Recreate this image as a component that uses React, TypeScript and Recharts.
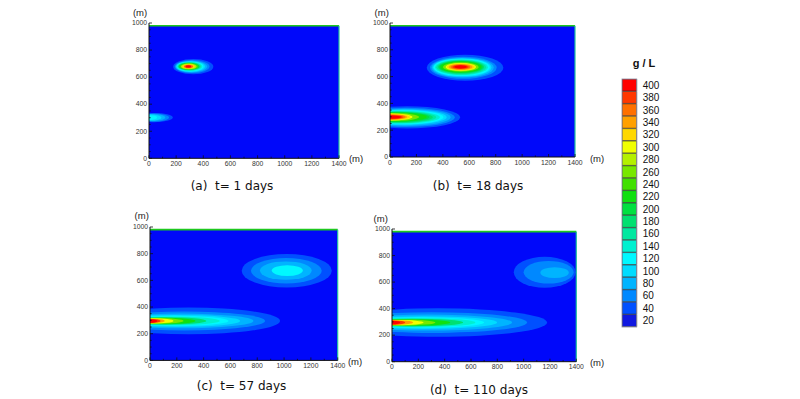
import React from 'react';
import { ComposedChart, BarChart, Bar, Cell, XAxis, YAxis, ReferenceArea, ReferenceLine } from 'recharts';

// ---------- data ----------
const LEVELS = [20, 40, 60, 80, 100, 120, 140, 160, 180, 200, 220, 240, 260, 280, 300, 320, 340, 360, 380, 400];
const LEVEL_COLORS = [
  '#1018e0', '#0050ff', '#0088ff', '#00b4ff', '#00dcff', '#00f8ff', '#00f0d0', '#00e8a0', '#00e070', '#00e040',
  '#10e010', '#40e000', '#78e800', '#b4f000', '#f0ff00', '#ffd800', '#ffa000', '#ff7000', '#ff3800', '#ff0000',
];
const BG = '#0008fa';
const FIELD_TOP = 980;
const X_TICKS = [0, 100, 200, 300, 400, 500, 600, 700, 800, 900, 1000, 1100, 1200, 1300, 1400];
const Y_TICKS = [0, 50, 100, 150, 200, 250, 300, 350, 400, 450, 500, 550, 600, 650, 700, 750, 800, 850, 900, 950, 1000];

// contour rings: [level, centerX, centerY, radiusX, radiusY] (metres)
const a_upper = [
  [40, 326, 677, 148, 56], [60, 318, 678, 128, 48], [80, 312, 678, 116, 43], [100, 307, 678, 106, 39],
  [120, 303, 678, 98, 36], [140, 300, 679, 92, 33], [160, 298, 679, 86, 30], [200, 296, 679, 78, 27],
  [240, 294, 679, 68, 24], [280, 293, 679, 58, 21], [320, 292, 679, 46, 17], [360, 291, 679, 34, 13],
  [400, 290, 679, 22, 9],
];
const a_lower = [
  [40, 40, 301, 135, 34], [60, 30, 301, 118, 30], [80, 20, 301, 100, 26], [100, 10, 301, 82, 22], [120, 0, 301, 60, 18],
];
const b_upper = [
  [40, 568, 666, 290, 97], [60, 555, 666, 252, 82], [80, 550, 667, 235, 74], [100, 546, 668, 222, 68],
  [120, 543, 669, 212, 64], [140, 541, 670, 200, 59], [160, 539, 670, 188, 54], [180, 538, 671, 175, 49],
  [200, 537, 671, 165, 45], [220, 536, 672, 155, 42], [260, 536, 672, 135, 35], [300, 536, 672, 115, 29],
  [320, 536, 672, 104, 26], [340, 535, 672, 90, 22], [360, 534, 672, 75, 18], [380, 534, 672, 62, 15],
  [400, 534, 672, 48, 12],
];
const b_lower = [
  [40, 130, 296, 400, 83], [60, 120, 296, 370, 72], [80, 110, 296, 350, 64], [100, 100, 297, 330, 57],
  [120, 90, 297, 315, 52], [140, 80, 297, 298, 48], [160, 70, 297, 280, 44], [180, 55, 297, 270, 40],
  [200, 40, 298, 260, 37], [220, 25, 298, 253, 34], [260, 10, 298, 210, 30], [300, 0, 298, 170, 26],
  [320, 0, 298, 151, 24], [340, 0, 298, 130, 21], [360, 0, 298, 115, 18], [380, 0, 298, 100, 15],
  [400, 0, 298, 88, 12],
];
const c_upper = [
  [40, 1020, 672, 336, 125], [60, 1017, 672, 264, 95], [80, 1013, 673, 193, 69], [120, 1024, 673, 116, 40],
];
const c_lower = [
  [40, 290, 296, 680, 100], [60, 255, 296, 603, 71], [80, 230, 296, 541, 55], [100, 200, 296, 472, 45],
  [120, 175, 296, 410, 38], [140, 150, 296, 370, 33], [180, 120, 296, 300, 28], [220, 90, 296, 250, 24],
  [260, 50, 296, 200, 21], [300, 20, 296, 155, 19], [340, 0, 296, 110, 17], [380, 0, 296, 80, 15],
  [400, 0, 296, 55, 13],
];
const d_upper = [
  [40, 1160, 674, 235, 117], [60, 1190, 674, 190, 85], [80, 1235, 671, 108, 41],
];
const d_lower = [
  [40, 350, 295, 828, 107], [60, 300, 295, 726, 78], [80, 270, 295, 642, 60], [100, 240, 295, 558, 48],
  [120, 200, 295, 500, 40], [140, 180, 295, 453, 35], [180, 150, 295, 390, 29], [220, 120, 295, 323, 25],
  [260, 80, 295, 250, 22], [300, 40, 295, 200, 20], [340, 0, 295, 160, 18], [380, 0, 295, 100, 16],
  [400, 0, 295, 63, 13],
];
const CAPTIONS = ['(a)  t= 1 days', '(b)  t= 18 days', '(c)  t= 57 days', '(d)  t= 110 days'];

// ---------- layout ----------
const PANELS = [
  { left: 149, top: 22.7, w: 190, h: 135.3, rings: [a_upper, a_lower] },
  { left: 390, top: 22.7, w: 185, h: 134, rings: [b_upper, b_lower] },
  { left: 150, top: 227.3, w: 187.7, h: 133.4, rings: [c_upper, c_lower] },
  { left: 391.7, top: 229, w: 184.3, h: 132.7, rings: [d_upper, d_lower] },
];
const CAPTION_POS = [[232, 190], [478, 190], [241.5, 390], [479, 394]];
const FONT = '"Liberation Sans", Arial, sans-serif';

const colorOf = (level: number) => LEVEL_COLORS[LEVELS.indexOf(level)];

// ellipse inscribed in the rectangle that the reference area computes through the axis scales;
// clipped to the field (left edge x = 0 is the source boundary)
const makeEllipse = (clipId: string) => (props: any) => {
  const { x, y, width, height, fill } = props;
  return (
    <ellipse cx={x + width / 2} cy={y + height / 2} rx={Math.abs(width / 2)} ry={Math.abs(height / 2)}
      fill={fill} clipPath={`url(#${clipId})`} />
  );
};

const FieldClip = (props: any) => {
  const { x, y, width, height, id } = props;
  return (
    <g>
      <defs>
        <clipPath id={id}>
          <rect x={x} y={y} width={width} height={height} />
        </clipPath>
      </defs>
      <rect x={x} y={y} width={width} height={height} fill={BG} />
    </g>
  );
};

const XTick = (props: any) => {
  const { x, y, payload } = props;
  const v = payload.value;
  const major = v % 200 === 0;
  return (
    <g>
      <line x1={x} x2={x} y1={y} y2={y - (major ? 3 : 1.6)} stroke="#111" strokeWidth={0.8} />
      {major && (
        <text x={x} y={y + 7.5} textAnchor="middle" fontSize={6.8} fill="#333" fontFamily={FONT}>{v}</text>
      )}
    </g>
  );
};

const YTick = (props: any) => {
  const { x, y, payload } = props;
  const v = payload.value;
  const major = v % 200 === 0;
  return (
    <g>
      <line x1={x} x2={x + (major ? 3 : 1.6)} y1={y} y2={y} stroke="#111" strokeWidth={0.8} />
      {major && (
        <text x={x - 2} y={y + 2.3} textAnchor="end" fontSize={6.8} fill="#333" fontFamily={FONT}>{v}</text>
      )}
    </g>
  );
};

function Panel({ cfg, idx }: { cfg: any; idx: number }) {
  const yw = 30, mr = 30, mt = 10, xh = 14, mb = 4;
  const W = yw + cfg.w + mr;
  const H = mt + cfg.h + xh + mb;
  const clipId = `field-clip-${idx}`;
  const Ell = makeEllipse(clipId);
  return (
    <div style={{ position: 'absolute', left: cfg.left - yw, top: cfg.top - mt }}>
      <ComposedChart width={W} height={H} margin={{ top: mt, right: mr, bottom: mb, left: 0 }}>
        <XAxis type="number" dataKey="x" domain={[0, 1400]} ticks={X_TICKS} interval={0} allowDataOverflow
          height={xh} tickSize={0} tickMargin={0} tick={<XTick />} axisLine={{ stroke: '#111', strokeWidth: 1 }} tickLine={false} />
        <YAxis type="number" dataKey="y" domain={[0, 1000]} ticks={Y_TICKS} interval={0} allowDataOverflow
          width={yw} tickSize={0} tickMargin={0} tick={<YTick />} axisLine={{ stroke: '#111', strokeWidth: 1 }} tickLine={false} />
        <ReferenceArea x1={0} x2={1400} y1={0} y2={FIELD_TOP} fill={BG} fillOpacity={1} stroke="none"
          shape={<FieldClip id={clipId} />} />
        {cfg.rings.map((plume: number[][], pi: number) =>
          plume.map((r, i) => (
            <ReferenceArea key={`${pi}-${i}`} x1={r[1] - r[3]} x2={r[1] + r[3]} y1={r[2] - r[4]} y2={r[2] + r[4]}
              fill={colorOf(r[0])} fillOpacity={1} stroke="none" ifOverflow="visible" shape={Ell} />
          ))
        )}
        <ReferenceLine segment={[{ x: 0, y: FIELD_TOP }, { x: 1400, y: FIELD_TOP }]} stroke="#1ec81e" strokeWidth={1.6} ifOverflow="visible" />
        <ReferenceLine segment={[{ x: 1400, y: 0 }, { x: 1400, y: FIELD_TOP }]} stroke="#20c0a0" strokeWidth={1.2} ifOverflow="visible" />
      </ComposedChart>
    </div>
  );
}

const CbTick = (props: any) => {
  const { x, y, payload } = props;
  return (
    <text x={x + 6} y={y + 3.5} textAnchor="start" fontSize={10} fill="#111" fontFamily={FONT}>{payload.value}</text>
  );
};

// colour bar: one bar per level, top = 400
const CB_DATA = LEVELS.slice().reverse().map((lv) => ({ level: lv, v: 1 }));

function ColorBar() {
  const w = 14.7, h = 248, aw = 30;
  return (
    <div style={{ position: 'absolute', left: 622, top: 79 }}>
      <BarChart width={w + aw} height={h} data={CB_DATA} layout="vertical" barCategoryGap={0}
        margin={{ top: 0, right: 0, bottom: 0, left: 0 }}>
        <XAxis type="number" domain={[0, 1]} hide />
        <YAxis type="category" dataKey="level" orientation="right" width={aw} axisLine={false} tickLine={false}
          tickSize={0} tickMargin={0} interval={0} tick={<CbTick />} />
        <Bar dataKey="v" isAnimationActive={false} stroke="#2a2a2a" strokeWidth={0.6}>
          {CB_DATA.map((d) => (
            <Cell key={d.level} fill={colorOf(d.level)} />
          ))}
        </Bar>
      </BarChart>
    </div>
  );
}

export default function App() {
  const yLab = [[140, 15.5], [381.7, 15.5], [141.7, 219], [380.7, 221.5]];
  const xLab = [[356, 162], [597, 162], [355, 365], [597, 366]];
  return (
    <div style={{ position: 'absolute', left: 0, top: 0, width: 800, height: 399, background: '#fff', overflow: 'hidden' }}>
      {PANELS.map((p, i) => <Panel key={i} cfg={p} idx={i} />)}
      <ColorBar />
      <svg width={800} height={399} style={{ position: 'absolute', left: 0, top: 0, pointerEvents: 'none' }}>
        {yLab.map(([x, y], i) => (
          <text key={`y${i}`} x={x} y={y} textAnchor="middle" fontSize={9.5} fill="#222" fontFamily={FONT}>(m)</text>
        ))}
        {xLab.map(([x, y], i) => (
          <text key={`x${i}`} x={x} y={y} textAnchor="middle" fontSize={9.5} fill="#222" fontFamily={FONT}>(m)</text>
        ))}
        {CAPTIONS.map((c, i) => (
          <text key={`c${i}`} x={CAPTION_POS[i][0]} y={CAPTION_POS[i][1]} textAnchor="middle" fontSize={12}
            fill="#111" fontFamily='"DejaVu Sans", sans-serif' style={{ whiteSpace: 'pre' }}>{c}</text>
        ))}
        <text x={644} y={67} textAnchor="middle" fontSize={11} fontWeight="bold" fill="#111" fontFamily={FONT}>g / L</text>
        <rect x={622} y={79} width={14.7} height={248} fill="none" stroke="#8a8aa0" strokeWidth={0.8} />
      </svg>
    </div>
  );
}
